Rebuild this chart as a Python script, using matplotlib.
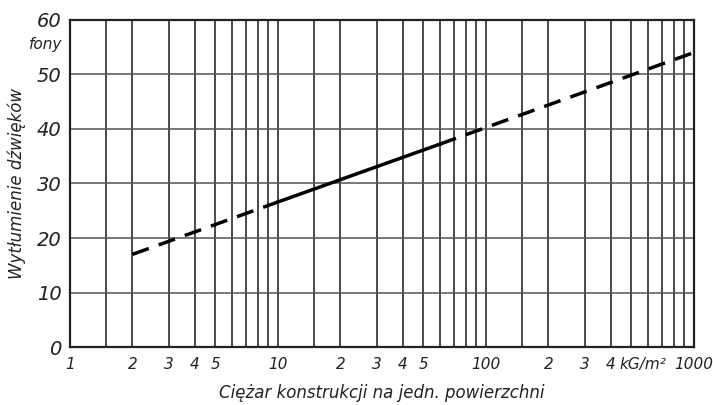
import matplotlib
matplotlib.use("Agg")
import matplotlib.pyplot as plt

# ciezar konstrukcji [kG/m2] i wytlumienie [fony]
mass_dash_lo = [2, 10]
atten_dash_lo = [17.0, 26.6]
mass_solid = [10, 60]
atten_solid = [26.6, 37.2]
mass_dash_hi = [60, 1000]
atten_dash_hi = [37.2, 54.0]

grid_x = [1, 1.5, 2, 3, 4, 5, 6, 7, 8, 9, 10, 15, 20, 30, 40, 50, 60, 70, 80, 90,
          100, 150, 200, 300, 400, 500, 600, 700, 800, 900, 1000]
grid_y = [10, 20, 30, 40, 50, 60]
xtick_pos = [1, 2, 3, 4, 5, 10, 20, 30, 40, 50, 100, 200, 300, 400, 1000]
xtick_lab = ["1", "2", "3", "4", "5", "10", "2", "3", "4", "5", "100", "2", "3", "4", "1000"]
ytick_pos = [0, 10, 20, 30, 40, 50, 60]
ytick_lab = ["0", "10", "20", "30", "40", "50", "60"]

fam = ["DejaVu Sans"]
ink = "#222222"

fig = plt.figure(figsize=(7.13, 4.05), dpi=100)
ax = fig.add_axes([0.098, 0.143, 0.875, 0.808])
ax.set_xscale("log")
ax.set_xlim(1, 1000)
ax.set_ylim(0, 60)

for gx in grid_x:
    ax.axvline(gx, color="#3a3a3a", lw=1.3, zorder=1)
for gy in grid_y:
    ax.axhline(gy, color="#555555", lw=1.1, zorder=1)

ax.plot(mass_dash_lo, atten_dash_lo, color="black", lw=2.5, dashes=(5, 3), zorder=3)
ax.plot(mass_solid, atten_solid, color="black", lw=2.5, zorder=3)
ax.plot(mass_dash_hi, atten_dash_hi, color="black", lw=2.5, dashes=(5, 3), zorder=3)

for s in ax.spines.values():
    s.set_color(ink)
    s.set_linewidth(1.6)

ax.minorticks_off()
ax.set_xticks(xtick_pos)
ax.set_xticklabels(xtick_lab, family=fam, style="italic", fontsize=11, color=ink)
ax.set_yticks(ytick_pos)
ax.set_yticklabels(ytick_lab, family=fam, style="italic", fontsize=14, color=ink)
ax.tick_params(axis="x", length=0, pad=7)
ax.tick_params(axis="y", length=0, pad=6)

# jednostka obok ostatniej cyfry przed 1000
ax.annotate("kG/m²", xy=(400, 0), xycoords="data", xytext=(6, -7),
            textcoords="offset points", family=fam, style="italic",
            fontsize=11, color=ink, ha="left", va="top")
ax.text(-0.012, 55.5, "fony", transform=ax.get_yaxis_transform(), ha="right",
        va="center", family=fam, style="italic", fontsize=11, color=ink)

ax.set_ylabel("Wytłumienie dźwięków", family=fam, style="italic", fontsize=12,
              color=ink, labelpad=8)
ax.set_xlabel("Ciężar konstrukcji na jedn. powierzchni", family=fam, style="italic",
              fontsize=12, color=ink, labelpad=9)

fig.savefig("out.png", dpi=100)
